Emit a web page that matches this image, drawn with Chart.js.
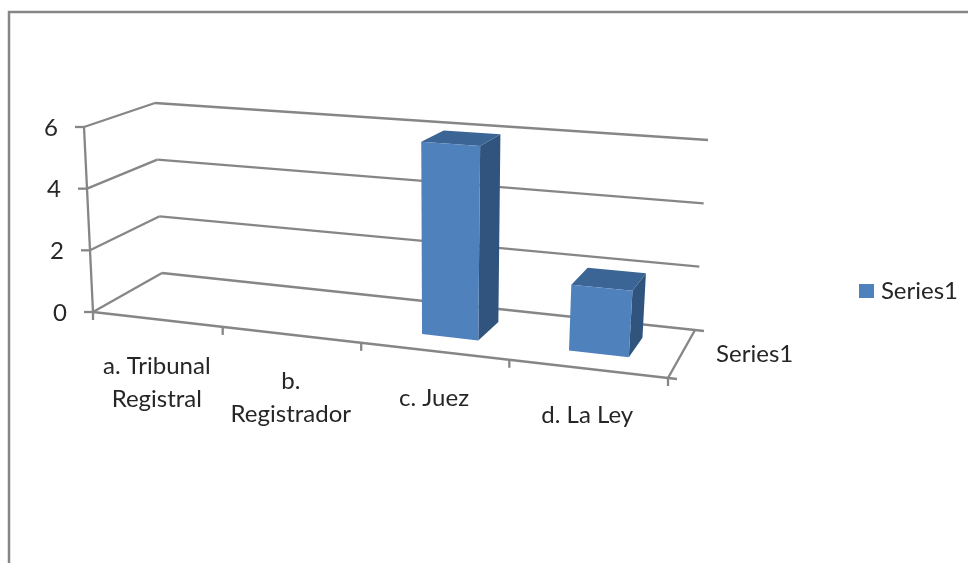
<!DOCTYPE html>
<html>
<head>
<meta charset="utf-8">
<title>Series1</title>
<script src="https://cdn.jsdelivr.net/npm/chart.js@4"></script>
<style>
  html, body { margin: 0; padding: 0; background: #fff; overflow: hidden; }
  #box { width: 968px; height: 563px; }
  /* the reference is a scaled-up screenshot, a little soft */
  #grafico { filter: blur(0.4px); }
</style>
</head>
<body>
<div id="box"><canvas id="grafico" width="968" height="563"></canvas></div>
<script>
'use strict';

// Data
const categories = [['a. Tribunal', 'Registral'], ['b.', 'Registrador'], ['c. Juez'], ['d. La Ley']];
const seriesName = 'Series1';
const seriesValues = [0, 0, 6, 2];
const yTicks = [0, 2, 4, 6];

// Colours
const LINE = '#868686';
const TEXT = '#262626';
const FRONT = '#4f81bd';
const TOP = '#3b6595';
const SIDE = '#30547e';
const FONT_SIZE = 24;
const FONT = FONT_SIZE + 'px Lato, sans-serif';

// The 3D box of the chart: front-left, front-right, back-right, back-left
const floorQuad = [[93, 312], [668, 378], [695, 330], [162, 273]];
const ceilQuad = [[84, 127], [683, 171], [708, 140], [155, 103]];
const barDepth = [0.3, 0.72];
const FRONT_WARP = 0.0417; // the front edge is a bit more foreshortened than the quads give

// Maps the unit square onto a quad (perspective)
function quadMap(q) {
  const [[x0, y0], [x1, y1], [x2, y2], [x3, y3]] = q;
  const dx1 = x1 - x2, dx2 = x3 - x2, sx = x0 - x1 + x2 - x3;
  const dy1 = y1 - y2, dy2 = y3 - y2, sy = y0 - y1 + y2 - y3;
  const den = dx1 * dy2 - dx2 * dy1;
  const g = (sx * dy2 - dx2 * sy) / den;
  const h = (dx1 * sy - sx * dy1) / den;
  const a = x1 - x0 + g * x1, b = x3 - x0 + h * x3;
  const d = y1 - y0 + g * y1, e = y3 - y0 + h * y3;
  return (u, w) => {
    const k = g * u + h * w + 1;
    return [(a * u + b * w + x0) / k, (d * u + e * w + y0) / k];
  };
}

const floorAt = quadMap(floorQuad);
const ceilAt = quadMap(ceilQuad);

// u along the categories, v up the values, w into the depth (all 0..1)
function project(u, v, w) {
  const uw = u - FRONT_WARP * u * (1 - u) * (1 - w);
  const p = floorAt(uw, w), q = ceilAt(uw, w);
  return [p[0] + (q[0] - p[0]) * v, p[1] + (q[1] - p[1]) * v];
}

function segment(ctx, a, b) {
  ctx.beginPath();
  ctx.moveTo(a[0], a[1]);
  ctx.lineTo(b[0], b[1]);
  ctx.stroke();
}

function face(ctx, color, pts) {
  ctx.fillStyle = color;
  ctx.beginPath();
  pts.forEach((p, i) => i ? ctx.lineTo(p[0], p[1]) : ctx.moveTo(p[0], p[1]));
  ctx.closePath();
  ctx.fill();
}

// Legend swatch: the library puts half a font size after the box, the reference less
function legendSwatch() {
  const c = document.createElement('canvas');
  c.width = 15;
  c.height = 14;
  const g = c.getContext('2d');
  g.fillStyle = FRONT;
  g.fillRect(0, 0, 15, 14);
  return c;
}

const box3d = {
  id: 'box3d',
  beforeDatasetsDraw(chart) {
    const { ctx, chartArea: area, scales: { x, y } } = chart;
    const vOf = val => (area.bottom - y.getPixelForValue(val)) / area.height;
    const uOf = px => (px - area.left) / area.width;

    ctx.save();
    ctx.strokeStyle = LINE;
    ctx.lineWidth = 2.5;
    // frame of the picture, cut by the window on the right and at the bottom
    ctx.beginPath();
    ctx.moveTo(9, 563);
    ctx.lineTo(9, 12);
    ctx.lineTo(968, 12);
    ctx.stroke();

    ctx.lineWidth = 2.3;
    // walls, value axis and its ticks
    y.getTicks().forEach(t => {
      const v = vOf(t.value);
      const f = project(0, v, 0), b = project(0, v, 1), r = project(1, v, 1);
      segment(ctx, f, b);
      segment(ctx, b, r);
      segment(ctx, f, [f[0] - 9, f[1]]);
    });
    segment(ctx, project(0, 0, 0), project(0, 1, 0));
    // floor
    const fl = project(0, 0, 0), fr = project(1, 0, 0), br = project(1, 0, 1);
    segment(ctx, fl, fr);
    segment(ctx, fr, br);
    segment(ctx, br, [br[0] + 9, br[1] + 1]);
    segment(ctx, fr, [fr[0] + 9, fr[1] + 1]);
    // category ticks
    for (let i = 0; i <= categories.length; i++) {
      const p = project(i / categories.length, 0, 0);
      segment(ctx, p, [p[0], p[1] + 8]);
    }

    // texts
    ctx.font = FONT;
    ctx.fillStyle = TEXT;
    ctx.textBaseline = 'middle';
    ctx.textAlign = 'center';
    y.getTicks().forEach(t => {
      const p = project(0, vOf(t.value), 0);
      ctx.fillText(String(t.value), p[0] - 33, p[1] + 1);
    });
    categories.forEach((lines, i) => {
      const p = project(uOf(x.getPixelForValue(i)), 0, 0);
      lines.forEach((line, n) => ctx.fillText(line, p[0], p[1] + 47 + n * 33));
    });
    const m = project(1, 0, 0.5);
    ctx.textAlign = 'left';
    ctx.fillText(seriesName, m[0] + 34, m[1] + 1);
    ctx.restore();
  },
  // each bar element gives its flat box, which is drawn through the projection
  beforeDatasetDraw(chart, args) {
    const { ctx, chartArea: area } = chart;
    const uOf = px => (px - area.left) / area.width;
    const vOf = py => (area.bottom - py) / area.height;
    ctx.save();
    args.meta.data.forEach(bar => {
      const v0 = vOf(bar.base), v1 = vOf(bar.y);
      if (v1 <= v0) return;
      const u0 = uOf(bar.x - bar.width / 2), u1 = uOf(bar.x + bar.width / 2);
      const [w0, w1] = barDepth;
      face(ctx, SIDE, [project(u1, v0, w0), project(u1, v0, w1), project(u1, v1, w1), project(u1, v1, w0)]);
      face(ctx, TOP, [project(u0, v1, w0), project(u1, v1, w0), project(u1, v1, w1), project(u0, v1, w1)]);
      face(ctx, FRONT, [project(u0, v0, w0), project(u1, v0, w0), project(u1, v1, w0), project(u0, v1, w0)]);
    });
    ctx.restore();
    return false;
  }
};

new Chart(document.getElementById('grafico').getContext('2d'), {
  type: 'bar',
  data: {
    labels: categories,
    datasets: [{ label: seriesName, data: seriesValues, backgroundColor: FRONT, barPercentage: 0.39, categoryPercentage: 1 }]
  },
  plugins: [box3d],
  options: {
    responsive: false,
    animation: false,
    layout: { padding: { left: 93, top: 127, bottom: 251, right: 0 } },
    plugins: {
      tooltip: { enabled: false },
      legend: {
        position: 'right',
        align: 'end',
        fullSize: false,
        labels: {
          usePointStyle: true,
          pointStyle: legendSwatch(),
          boxWidth: 5,
          boxHeight: 14,
          padding: 9,
          color: TEXT,
          font: { family: 'Lato, sans-serif', size: FONT_SIZE }
        }
      }
    },
    scales: {
      x: { display: false, offset: true },
      y: {
        display: false,
        min: 0,
        max: yTicks[yTicks.length - 1],
        ticks: { stepSize: 2 }
      }
    }
  }
});
</script>
</body>
</html>
